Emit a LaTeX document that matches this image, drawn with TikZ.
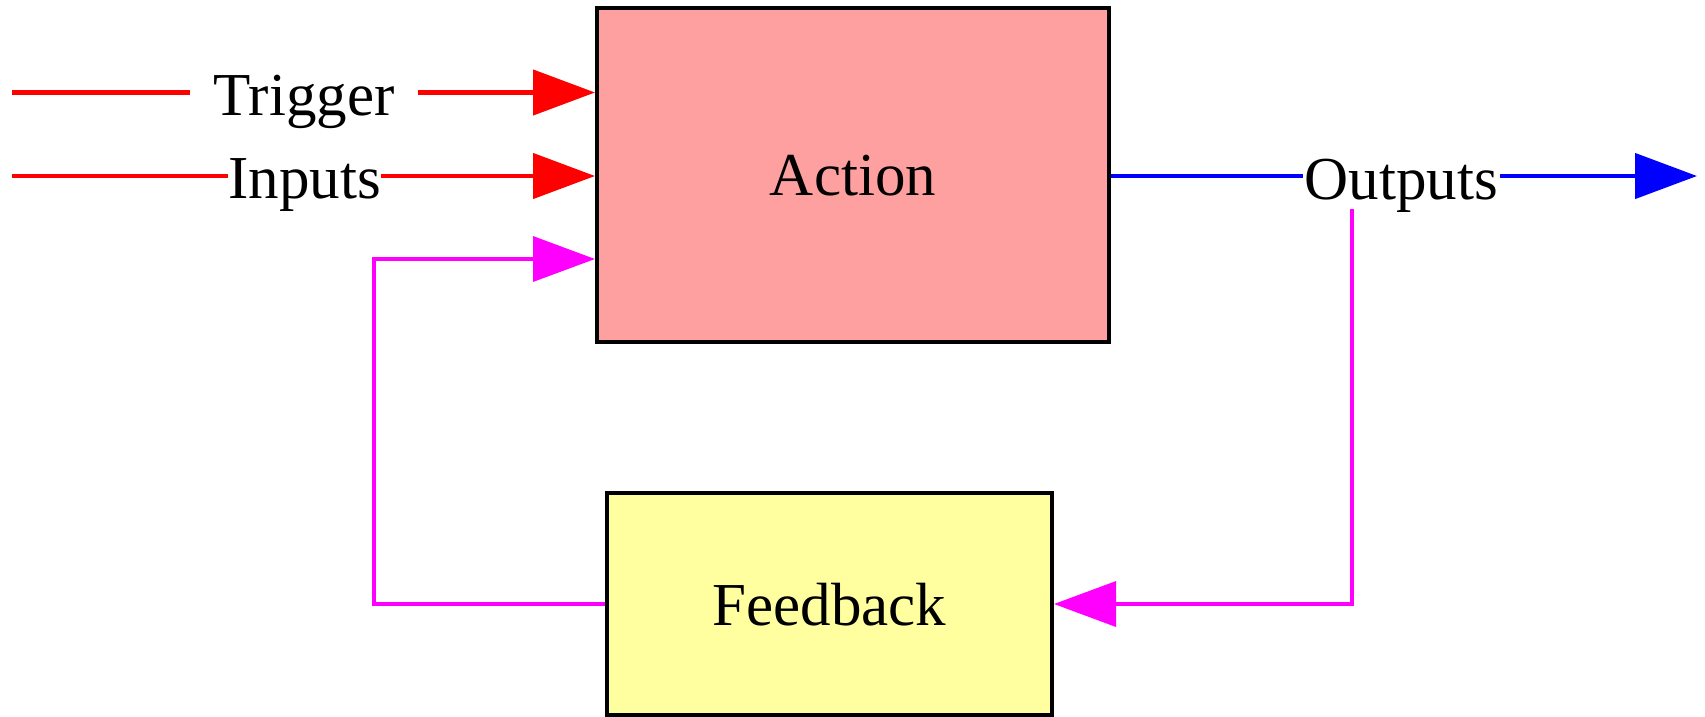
\documentclass[tikz,border=0pt]{standalone}
\usepackage{fontspec}
\setmainfont{Liberation Serif}
\usetikzlibrary{arrows.meta}
\definecolor{actfill}{RGB}{255,160,160}
\definecolor{fbfill}{RGB}{255,255,160}
\definecolor{lred}{RGB}{255,0,0}
\definecolor{lblue}{RGB}{0,0,255}
\definecolor{lmag}{RGB}{255,0,255}
\tikzset{
  box/.style={draw=black, line width=4pt, inner sep=0pt, font=\fontsize{61}{72}\selectfont, text depth=0pt},
  lbl/.style={font=\fontsize{61}{72}\selectfont, inner ysep=0pt},
  tip/.style={-{Triangle[length=62pt,width=45pt]}},
  redl/.style={draw=lred, line width=4.5pt},
  bluel/.style={draw=lblue, line width=4.5pt},
  magl/.style={draw=lmag, line width=3.5pt},
}
\begin{document}
\begin{tikzpicture}[x=1pt,y=-1pt]
\useasboundingbox (0,0) rectangle (1705,716);
\node[box, fill=actfill, minimum width=512pt, minimum height=334pt] (action) at (853,175) {Action};
\node[box, fill=fbfill, minimum width=445pt, minimum height=222pt] (feedback) at (829.5,604) {Feedback};
\node[lbl, anchor=base, inner xsep=23pt] (tl) at (304,115) {Trigger};
\node[lbl, anchor=base, inner xsep=0.5pt] (il) at (304.5,198) {Inputs};
\node[lbl, anchor=base, inner xsep=2pt] (ol) at (1401.5,199) {Outputs};
\coordinate (t0) at (12,92.5);
\coordinate (i0) at (12,176);
\coordinate (a1) at (action.west |- 0,92.5);
\coordinate (a2) at (action.west |- 0,176);
\coordinate (a3) at (action.west |- 0,259);
\coordinate (b1) at (action.east |- 0,176);
\coordinate (oend) at (1697,176);
\coordinate (o1) at (1352,209);
\coordinate (c1) at (374,604);
% Trigger
\draw[redl] (t0) -- (t0 -| tl.west);
\draw[redl, tip] (t0 -| tl.east) -- (a1);
% Inputs
\draw[redl] (i0) -- (i0 -| il.west);
\draw[redl, tip] (i0 -| il.east) -- (a2);
% Outputs
\draw[bluel] (b1) -- (b1 -| ol.west);
\draw[bluel, tip] (b1 -| ol.east) -- (oend);
% Feedback loop
\draw[magl, tip] (o1) |- (feedback.east);
\draw[magl, tip] (feedback.west) -- (c1) |- (a3);
\end{tikzpicture}
\end{document}
